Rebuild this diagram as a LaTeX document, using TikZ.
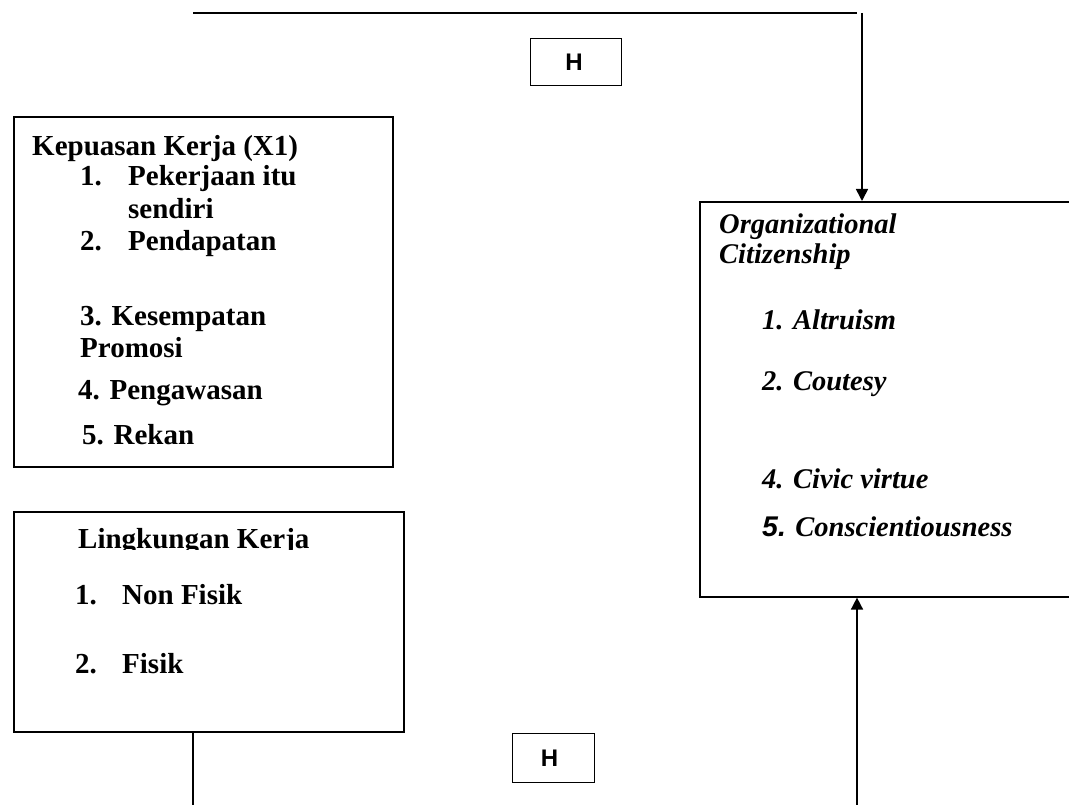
\documentclass[tikz,border=0pt]{standalone}
\usepackage{fontspec}
\setmainfont{Liberation Serif}
\newfontfamily\hfont{Liberation Sans}
\usetikzlibrary{arrows.meta}
\tikzset{
  box/.style={draw, line width=1.6pt, anchor=north west, inner sep=0pt},
  hbox/.style={draw, line width=1.2pt, anchor=north west, inner sep=0pt},
  txt/.style={anchor=base west, inner sep=0pt, font=\fontsize{29}{34}\selectfont\bfseries},
  itxt/.style={anchor=base west, inner sep=0pt, font=\fontsize{28.5}{34}\selectfont\bfseries\itshape},
  htxt/.style={inner sep=0pt, font=\hfont\fontsize{24}{28}\selectfont\bfseries},
  conn/.style={line width=1.6pt},
  arr/.style={line width=1.6pt, -{Triangle[length=12pt,width=12pt]}}
}
\begin{document}
\begin{tikzpicture}[x=1pt,y=1pt]
\clip (0,0) rectangle (1069,-805);
\useasboundingbox (0,0) rectangle (1069,-805);

% boxes
\node[box, minimum width=379pt, minimum height=350pt] (kep) at (13,-116) {};
\node[box, minimum width=390pt, minimum height=220pt] (ling) at (13,-511) {};
\node[box, minimum width=400pt, minimum height=395pt] (ocb) at (699,-201) {};
\node[hbox, minimum width=91pt, minimum height=47pt] (h1) at (530,-38) {};
\node[hbox, minimum width=82pt, minimum height=49pt] (h2) at (512,-733) {};
\node[htxt] (h1t) at ([xshift=-2pt]h1.center) {H};
\node[htxt] (h2t) at ([xshift=-4pt]h2.center) {H};

% Kepuasan Kerja text
\node[txt] (k0) at (32,-156) {Kepuasan Kerja (X1)};
\node[txt] (k1n) at (80,-186) {1.};
\node[txt] (k1) at (128,-186) {Pekerjaan itu};
\node[txt] (k1b) at (128,-219) {sendiri};
\node[txt] (k2n) at (80,-251) {2.};
\node[txt] (k2) at (128,-251) {Pendapatan};
\node[txt] (k3) at (80,-325) {3. Kesempatan};
\node[txt] (k3b) at (80,-357) {Promosi};
\node[txt] (k4) at (78,-399) {4. Pengawasan};
\node[txt] (k5) at (82,-444) {5. Rekan};

% Lingkungan Kerja text
\begin{scope}
\clip (13,-511) rectangle (403,-549);
\node[txt] (l0) at (78,-548) {Lingkungan Kerja};
\end{scope}
\node[txt] (l1n) at (75,-604) {1.};
\node[txt] (l1) at (122,-604) {Non Fisik};
\node[txt] (l2n) at (75,-673) {2.};
\node[txt] (l2) at (122,-673) {Fisik};

% OCB text
\node[itxt] (o0) at (719,-234) {Organizational};
\node[itxt] (o0b) at (719,-264) {Citizenship};
\node[itxt] (o1) at (762,-330) {1. Altruism};
\node[itxt] (o2) at (762,-390) {2. Coutesy};
\node[itxt] (o4) at (762,-488) {4. Civic virtue};
\node[itxt] (o5) at (762,-536) {{\hfont 5.} Conscientiousness};

% connectors
\coordinate (tl) at (193,-13);
\coordinate (tr) at (857,-13);
\coordinate (tv) at (862,-13);
\draw[conn] (tl) -- (tr);
\draw[arr] (tv) -- (tv |- ocb.north);
\coordinate (lb) at (193,-805);
\draw[conn] (ling.south -| lb) -- (lb);
\coordinate (rb) at (857,-805);
\draw[arr] (rb) -- (rb |- ocb.south);
\end{tikzpicture}
\end{document}
